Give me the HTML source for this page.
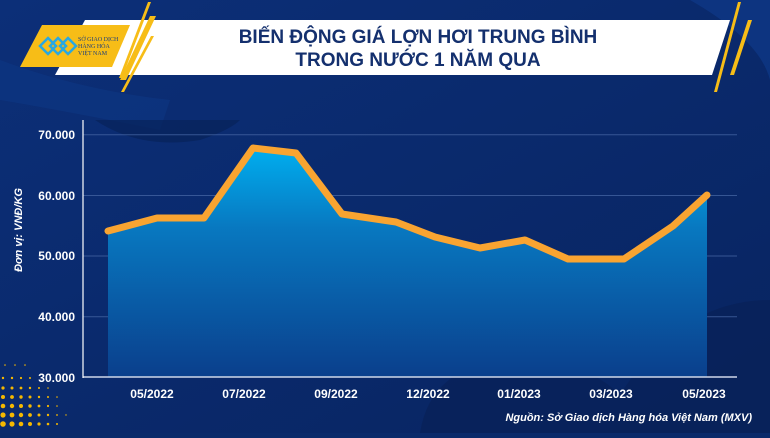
<!DOCTYPE html>
<html><head><meta charset="utf-8"><style>
body{margin:0;width:770px;height:433px;overflow:hidden;background:#0a2a6a;font-family:"Liberation Sans",sans-serif}
</style></head><body>
<svg width="770" height="433" viewBox="0 0 770 433" xmlns="http://www.w3.org/2000/svg">
<defs>
<linearGradient id="bg" x1="0" y1="0" x2="1" y2="1"><stop offset="0" stop-color="#0c2f78"/><stop offset="1" stop-color="#082460"/></linearGradient>
<linearGradient id="fill" x1="0" y1="0" x2="0" y2="1"><stop offset="0" stop-color="#00aeef"/><stop offset="0.35" stop-color="#0878c0"/><stop offset="1" stop-color="#0a3f8c"/></linearGradient>
<radialGradient id="dot"><stop offset="0" stop-color="#f5b800"/></radialGradient>
</defs>
<rect width="770" height="433" fill="url(#bg)"/>
<path d="M0 60 Q80 90 170 100 L160 130 Q60 110 0 100Z" fill="#0d3784" opacity="0.6"/>
<path d="M95 120 Q140 150 200 140 Q230 130 240 120Z" fill="#07225a" opacity="0.7"/>
<path d="M690 0 Q760 40 770 80 L770 0Z" fill="#0f3c8e" opacity="0.6"/>
<path d="M420 433 Q430 370 500 360 Q580 355 620 395 Q680 300 770 300 L770 433Z" fill="#082258" opacity="0.75"/>
<!-- header -->
<polygon points="85,20 730,20 712,75 55,75" fill="#ffffff"/>
<polygon points="42,25 130,25 112,67 20,67" fill="#f7bd17"/>
<polygon points="148,2 151,2 122,78 119,78" fill="#f7bd17"/>
<polygon points="150,16 156,16 126,80 120,80" fill="#f7bd17"/>
<polygon points="151,36 154,36 124,92 121,92" fill="#f7bd17"/>
<polygon points="738,2 741,2 717,92 714,92" fill="#f7bd17"/>
<polygon points="748,20 752,20 734,75 730,75" fill="#f7bd17"/>
<g fill="none" stroke="#29a8e0" stroke-width="2.5"><path d="M40 46 l8-8 8 8 -8 8z M50 46 l8-8 8 8 -8 8z M60 46 l8-8 8 8 -8 8z"/></g>
<text x="78" y="41" font-size="6" fill="#1a3d7c" font-family="Liberation Serif,serif">SỞ GIAO DỊCH</text>
<text x="78" y="48" font-size="6" fill="#1a3d7c" font-family="Liberation Serif,serif">HÀNG HÓA</text>
<text x="78" y="55" font-size="6" fill="#1a3d7c" font-family="Liberation Serif,serif">VIỆT NAM</text>
<text x="418" y="43" font-size="19" font-weight="bold" fill="#14306e" text-anchor="middle">BIẾN ĐỘNG GIÁ LỢN HƠI TRUNG BÌNH</text>
<text x="418" y="66" font-size="19" font-weight="bold" fill="#14306e" text-anchor="middle">TRONG NƯỚC 1 NĂM QUA</text>
<!-- dots -->
<g fill="#f5b800">
<circle cx="5" cy="365" r="0.8"/><circle cx="15" cy="365" r="0.8"/><circle cx="25" cy="365" r="0.8"/>
<circle cx="3" cy="378" r="1.2"/><circle cx="12" cy="378" r="1.2"/><circle cx="21" cy="378" r="1.1"/><circle cx="30" cy="378" r="1"/>
<circle cx="3" cy="388" r="1.6"/><circle cx="12" cy="388" r="1.5"/><circle cx="21" cy="388" r="1.4"/><circle cx="30" cy="388" r="1.2"/><circle cx="39" cy="388" r="1"/><circle cx="48" cy="388" r="0.8"/>
<circle cx="3" cy="397" r="2"/><circle cx="12" cy="397" r="1.9"/><circle cx="21" cy="397" r="1.7"/><circle cx="30" cy="397" r="1.5"/><circle cx="39" cy="397" r="1.2"/><circle cx="48" cy="397" r="1"/><circle cx="57" cy="397" r="0.8"/>
<circle cx="3" cy="406" r="2.3"/><circle cx="12" cy="406" r="2.2"/><circle cx="21" cy="406" r="2"/><circle cx="30" cy="406" r="1.7"/><circle cx="39" cy="406" r="1.4"/><circle cx="48" cy="406" r="1.1"/><circle cx="57" cy="406" r="0.8"/>
<circle cx="3" cy="415" r="2.6"/><circle cx="12" cy="415" r="2.4"/><circle cx="21" cy="415" r="2.2"/><circle cx="30" cy="415" r="1.9"/><circle cx="39" cy="415" r="1.5"/><circle cx="48" cy="415" r="1.2"/><circle cx="57" cy="415" r="0.9"/><circle cx="66" cy="415" r="0.7"/>
<circle cx="3" cy="424" r="2.8"/><circle cx="12" cy="424" r="2.6"/><circle cx="21" cy="424" r="2.3"/><circle cx="30" cy="424" r="2"/><circle cx="39" cy="424" r="1.6"/><circle cx="48" cy="424" r="1.3"/><circle cx="57" cy="424" r="1"/>
</g>
<!-- grid -->
<g stroke="#4a6aa8" stroke-width="1" opacity="0.7">
<line x1="83" y1="134.7" x2="737" y2="134.7"/><line x1="83" y1="195.5" x2="737" y2="195.5"/>
<line x1="83" y1="256" x2="737" y2="256"/><line x1="83" y1="316.7" x2="737" y2="316.7"/>
</g>
<polygon points="108,377 108,231 157,218 204,218 253,148 296,153 342,214 396,222 435,237 480,248 525,240 568,259 624,259 673,226 707,195 707,377" fill="url(#fill)"/>
<polyline points="108,231 157,218 204,218 253,148 296,153 342,214 396,222 435,237 480,248 525,240 568,259 624,259 673,226 707,195" fill="none" stroke="#f9a431" stroke-width="7" stroke-linejoin="round" stroke-linecap="round"/>
<line x1="83" y1="377" x2="737" y2="377" stroke="#d0d8ea" stroke-width="1.5"/>
<line x1="83" y1="120" x2="83" y2="378" stroke="#ffffff" stroke-width="1.2"/>
<g fill="#ffffff" font-size="12" font-weight="bold" text-anchor="end">
<text x="75" y="139">70.000</text><text x="75" y="200">60.000</text><text x="75" y="260">50.000</text><text x="75" y="321">40.000</text><text x="75" y="382">30.000</text>
</g>
<g fill="#ffffff" font-size="12" font-weight="bold" text-anchor="middle">
<text x="152" y="398">05/2022</text><text x="244" y="398">07/2022</text><text x="336" y="398">09/2022</text><text x="428" y="398">12/2022</text><text x="519" y="398">01/2023</text><text x="611" y="398">03/2023</text><text x="704" y="398">05/2023</text>
</g>
<text transform="translate(22,230) rotate(-90)" fill="#ffffff" font-size="11" font-weight="bold" font-style="italic" text-anchor="middle">Đơn vị: VNĐ/KG</text>
<text x="752" y="421" fill="#ffffff" font-size="11" font-weight="bold" font-style="italic" text-anchor="end">Nguồn: Sở Giao dịch Hàng hóa Việt Nam (MXV)</text>
</svg>
</body></html>
